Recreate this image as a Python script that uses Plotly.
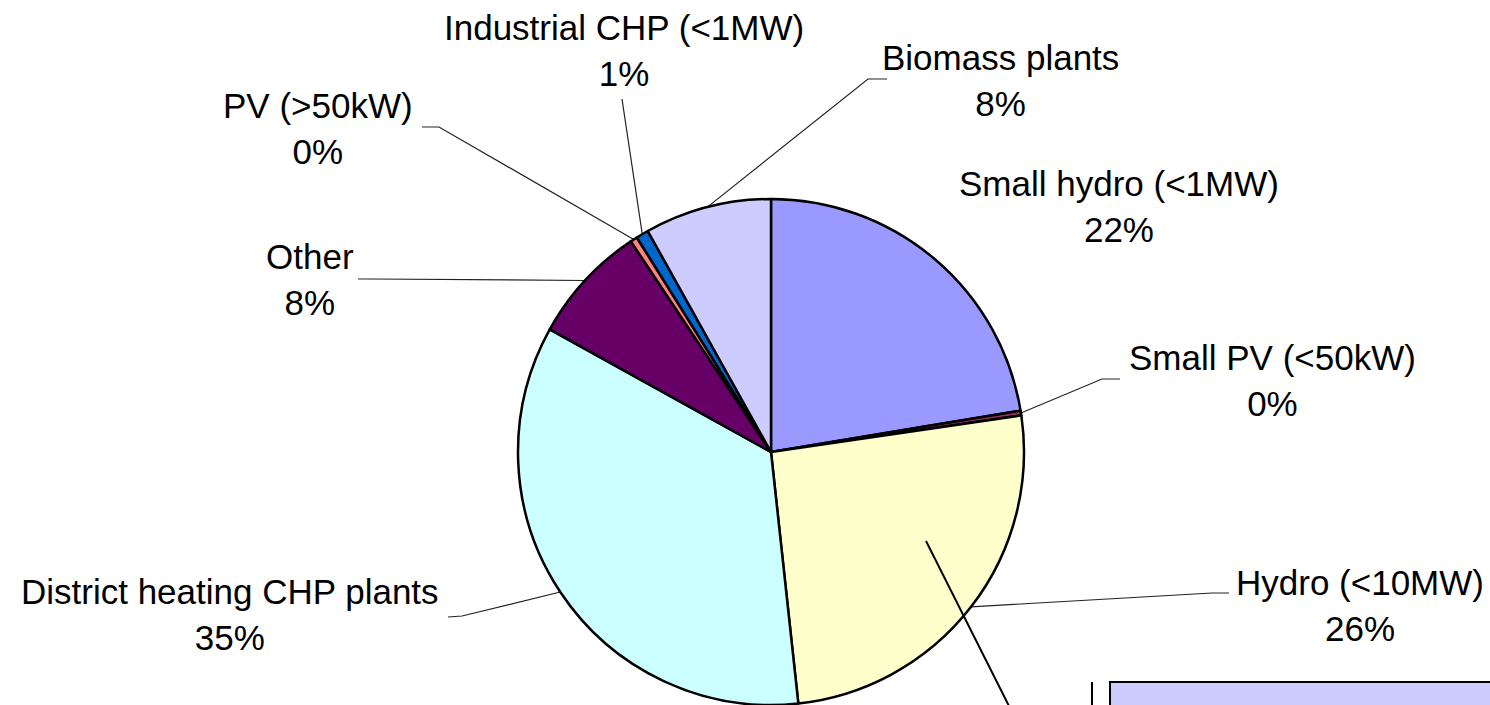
import numpy as np
import plotly.graph_objects as go

# ---------------- data ----------------
labels = ["Small hydro (<1MW)", "Small PV (<50kW)", "Hydro (<10MW)",
          "District heating CHP plants", "Other", "PV (>50kW)",
          "Industrial CHP (<1MW)", "Biomass plants"]
values = [22.4, 0.3, 25.6, 34.8, 7.6, 0.45, 0.8, 8.1]
colors = ["#9999FF", "#993366", "#FFFFCC", "#CCFFFF",
          "#660066", "#FF8080", "#0066CC", "#CCCCFF"]

# ---------------- layout helpers (pixel space) ----------------
W, H = 1490, 705
CX, CY, R = 771, 452, 253

# label block centres (pixels)
label_x = [1119, 1272, 1360, 230, 310, 318, 624, 1000]
label_y = [206, 380, 605, 614, 279, 128, 50, 80]
# leader line anchor points near the labels (None = no leader line)
leader_pts = [
    None,
    [(1120, 379), (1102, 379)],
    [(1229, 593), (1212, 593)],
    [(448, 617), (462, 616)],
    [(358, 279), (372, 279)],
    [(422, 127), (439, 127)],
    [(622, 99)],
    [(887, 79), (868, 79)],
]

total = float(sum(values))
cum = np.cumsum([0] + values[:-1])
mid_frac = (cum + np.array(values) / 2.0) / total

fig = go.Figure()

fig.add_trace(go.Pie(
    labels=labels, values=values, sort=False, direction="clockwise",
    rotation=0, textinfo="none", showlegend=False,
    marker=dict(colors=colors, line=dict(color="black", width=2.5)),
    domain=dict(x=[(CX - R) / W, (CX + R) / W], y=[1 - (CY + R) / H, 1 - (CY - R) / H]),
    hoverinfo="label+percent",
))

# leader lines from label anchors to the slice mid-angle on the pie edge
for i, pts in enumerate(leader_pts):
    if pts is None:
        continue
    th = 2 * np.pi * mid_frac[i]
    ex = CX + R * np.sin(th)
    ey = CY - R * np.cos(th)
    xs = [p[0] for p in pts] + [ex]
    ys = [p[1] for p in pts] + [ey]
    fig.add_trace(go.Scatter(x=xs, y=ys, mode="lines",
                             line=dict(color="#222222", width=1.2),
                             hoverinfo="skip", showlegend=False))

# labels
for i, lab in enumerate(labels):
    pct = int(round(values[i] / total * 100))
    fig.add_annotation(x=label_x[i], y=label_y[i], xref="x", yref="y",
                       text=f"{lab}<br>{pct}%", showarrow=False,
                       xanchor="center", yanchor="middle", align="center",
                       font=dict(family="Liberation Sans, Arial, sans-serif",
                                 size=35, color="black"))

# remnants of the adjacent (cropped) chart
fig.add_shape(type="line", x0=926, y0=541, x1=1012, y1=712, xref="x", yref="y",
              line=dict(color="black", width=2))
fig.add_shape(type="line", x0=1092, y0=682, x1=1092, y1=712, xref="x", yref="y",
              line=dict(color="black", width=2))
fig.add_shape(type="rect", x0=1110, y0=682, x1=1500, y1=720, xref="x", yref="y",
              fillcolor="#CCCCFF", line=dict(color="black", width=2))

fig.update_layout(
    width=W, height=H,
    margin=dict(l=0, r=0, t=0, b=0),
    paper_bgcolor="white", plot_bgcolor="rgba(0,0,0,0)",
    xaxis=dict(range=[0, W], visible=False, fixedrange=True),
    yaxis=dict(range=[H, 0], visible=False, fixedrange=True),
    showlegend=False,
)

fig.write_html("out.html", config={"displayModeBar": False},
               post_script="document.body.style.margin='0';document.body.style.overflow='hidden';")
